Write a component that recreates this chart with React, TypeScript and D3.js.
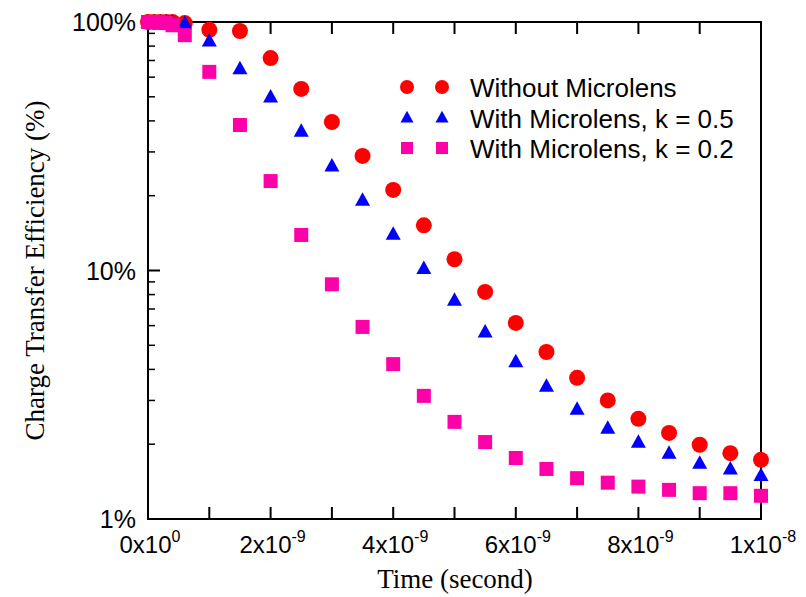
import React from "react";
import * as d3 from "d3";

const times = [0, 0.1e-9, 0.2e-9, 0.3e-9, 0.4e-9, 0.6e-9, 1e-9, 1.5e-9, 2e-9, 2.5e-9, 3e-9, 3.5e-9, 4e-9, 4.5e-9, 5e-9, 5.5e-9, 6e-9, 6.5e-9, 7e-9, 7.5e-9, 8e-9, 8.5e-9, 9e-9, 9.5e-9, 1e-8];
const withoutMicrolens = [100, 100, 100, 100, 100, 99, 93, 92, 71.6, 53.8, 39.6, 28.9, 21.1, 15.2, 11.1, 8.2, 6.15, 4.7, 3.7, 3.0, 2.53, 2.22, 1.99, 1.84, 1.73];
const withK05 = [100, 100, 100, 100, 100, 99, 84, 65, 50, 36.4, 26.4, 19.2, 14.0, 10.2, 7.6, 5.66, 4.3, 3.43, 2.77, 2.32, 2.04, 1.84, 1.68, 1.59, 1.5];
const withK02 = [100, 100, 99.5, 99, 97, 88.5, 63, 38.5, 22.9, 13.9, 8.8, 5.93, 4.2, 3.13, 2.46, 2.04, 1.76, 1.59, 1.46, 1.4, 1.35, 1.31, 1.27, 1.27, 1.24];

const seriesNames = ["Without Microlens", "With Microlens, k = 0.5", "With Microlens, k = 0.2"];
const seriesColors = ["#ff0000", "#0000ff", "#ff00a8"];
const seriesShapes = ["circle", "triangle", "square"];
const seriesValues = [withoutMicrolens, withK05, withK02];

const xTickValues = [0, 2e-9, 4e-9, 6e-9, 8e-9, 1e-8];
const xTickBase = ["0x10", "2x10", "4x10", "6x10", "8x10", "1x10"];
const xTickExp = ["0", "-9", "-9", "-9", "-9", "-8"];
const yTickValues = [1, 10, 100];
const yTickLabels = ["1%", "10%", "100%"];

const W = 806, H = 597;
const L = 148, R = 761, T = 22, B = 519;

function Marker({ shape, x, y, size, color }: { shape: string; x: number; y: number; size: number; color: string }) {
  if (shape === "circle") return <circle cx={x} cy={y} r={size / 2} fill={color} />;
  if (shape === "square") return <rect x={x - size / 2} y={y - size / 2} width={size} height={size} fill={color} />;
  const h = size * 0.9;
  return <path d={`M${x},${y - h * 0.58} L${x + size / 2},${y + h * 0.42} L${x - size / 2},${y + h * 0.42} Z`} fill={color} />;
}

export default function App() {
  const x = d3.scaleLinear().domain([0, 1e-8]).range([L, R]);
  const y = d3.scaleLog().domain([1, 100]).range([B, T]);
  const minorX = d3.range(0, 11).map((i) => i * 1e-9);
  const minorY: number[] = [];
  [1, 10].forEach((d) => { for (let k = 2; k <= 9; k++) minorY.push(d * k); });
  const sizes = [16, 15, 14];
  const legendSizes = [14, 13, 12];
  const sans = "'Liberation Sans', Arial, sans-serif";
  const serif = "'Liberation Serif', 'Times New Roman', serif";

  return (
    <div style={{ position: "fixed", left: 0, top: 0 }}>
      <svg width={W} height={H} style={{ display: "block", background: "#fff" }}>
        {minorX.map((t, i) => (
          <g key={"xt" + i}>
            <line x1={x(t)} x2={x(t)} y1={B} y2={B - 12} stroke="#000" strokeWidth={2} />
            <line x1={x(t)} x2={x(t)} y1={T} y2={T + 12} stroke="#000" strokeWidth={2} />
          </g>
        ))}
        {minorY.map((v, i) => (
          <line key={"ym" + i} x1={L} x2={L + 7} y1={y(v)} y2={y(v)} stroke="#000" strokeWidth={1.5} />
        ))}
        {yTickValues.map((v, i) => (
          <line key={"yM" + i} x1={L} x2={L + 12} y1={y(v)} y2={y(v)} stroke="#000" strokeWidth={2} />
        ))}
        <rect x={L} y={T} width={R - L} height={B - T} fill="none" stroke="#000" strokeWidth={2} />
        {yTickValues.map((v, i) => (
          <text key={"yl" + i} x={136} y={y(v) + 9} textAnchor="end" fontFamily={sans} fontSize={25} fill="#000">
            {yTickLabels[i]}
          </text>
        ))}
        {xTickValues.map((v, i) => (
          <text key={"xl" + i} x={x(v) + 2} y={553} textAnchor="middle" fontFamily={sans} fontSize={24} fill="#000">
            {xTickBase[i]}
            <tspan dy={-11} fontSize={16}>{xTickExp[i]}</tspan>
          </text>
        ))}
        <text x={455} y={588} textAnchor="middle" fontFamily={serif} fontSize={27} fill="#000">Time (second)</text>
        <text transform={`translate(44,${(T + B) / 2}) rotate(-90)`} textAnchor="middle" fontFamily={serif} fontSize={27} fill="#000">
          Charge Transfer Efficiency (%)
        </text>
        {seriesValues.map((vals, si) => (
          <g key={"s" + si}>
            {vals.map((v, i) => (
              <Marker key={i} shape={seriesShapes[si]} x={x(times[i])} y={y(v)} size={sizes[si]} color={seriesColors[si]} />
            ))}
          </g>
        ))}
        {seriesNames.map((name, i) => {
          const ly = 87 + i * 30.5;
          return (
            <g key={"lg" + i}>
              <Marker shape={seriesShapes[i]} x={407} y={ly} size={legendSizes[i]} color={seriesColors[i]} />
              <Marker shape={seriesShapes[i]} x={442} y={ly} size={legendSizes[i]} color={seriesColors[i]} />
              <text x={470} y={ly + 10} fontFamily={sans} fontSize={26} fill="#000">{name}</text>
            </g>
          );
        })}
      </svg>
    </div>
  );
}
